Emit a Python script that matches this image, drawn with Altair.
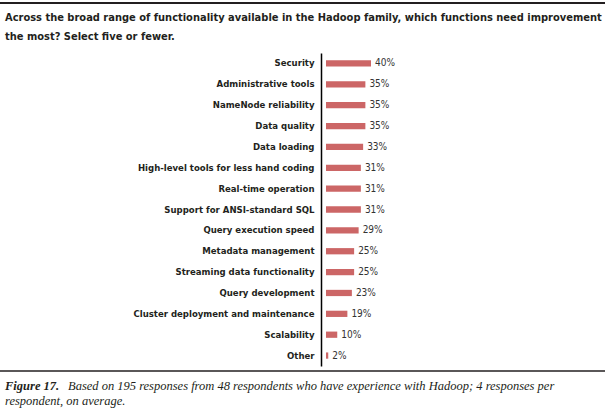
import altair as alt
import pandas as pd

categories = ["Security", "Administrative tools", "NameNode reliability", "Data quality",
              "Data loading", "High-level tools for less hand coding", "Real-time operation",
              "Support for ANSI-standard SQL", "Query execution speed", "Metadata management",
              "Streaming data functionality", "Query development",
              "Cluster deployment and maintenance", "Scalability", "Other"]
values = [40, 35, 35, 35, 33, 31, 31, 31, 29, 25, 25, 23, 19, 10, 2]
labels = [f"{v}%" for v in values]

title_lines = ["Across the broad range of functionality available in the Hadoop family, which functions need improvement",
               "the most? Select five or fewer."]
footer_bold = "Figure 17."
footer_rest = ["Based on 195 responses from 48 respondents who have experience with Hadoop; 4 responses per",
               "respondent, on average."]

df = pd.DataFrame({"cat": categories, "val": values, "lab": labels})

W, H = 283, 313
LEFT, TOP = 326, 53
COND = "DejaVu Sans Condensed"
dark = "#231f20"

y = alt.Y("cat:N", sort=categories, title=None,
          scale=alt.Scale(paddingInner=0.7, paddingOuter=0.35),
          axis=alt.Axis(offset=5, ticks=False, domainColor="black", domainWidth=1.5,
                        labelFont=COND, labelFontWeight="bold", labelFontSize=9.5,
                        labelColor=dark, labelPadding=7, labelLimit=0))
x = alt.X("val:Q", scale=alt.Scale(domain=[0, W / 1.125]), axis=None)

bars = alt.Chart(df).mark_bar(color="#cc6666").encode(x=x, y=y)
text = alt.Chart(df).mark_text(align="left", dx=4, font=COND, fontSize=10, color="#333333").encode(
    x=x, y=alt.Y("cat:N", sort=categories), text="lab:N")

one = pd.DataFrame({"a": [0]})
rule_top = alt.Chart(one).mark_rule(color="#231f20", strokeWidth=2).encode(
    x=alt.value(-LEFT), x2=alt.value(605 - LEFT), y=alt.value(3 - TOP))
rule_bot = alt.Chart(one).mark_rule(color="#231f20", strokeWidth=1.5).encode(
    x=alt.value(-LEFT), x2=alt.value(605 - LEFT), y=alt.value(371 - TOP))

t1 = alt.Chart(one).mark_text(align="left", baseline="alphabetic", font=COND, fontWeight="bold",
                              fontSize=11, color=dark).encode(
    x=alt.value(5 - LEFT), y=alt.value(21 - TOP), text=alt.value(title_lines[0]))
t2 = alt.Chart(one).mark_text(align="left", baseline="alphabetic", font=COND, fontWeight="bold",
                              fontSize=11, color=dark).encode(
    x=alt.value(5 - LEFT), y=alt.value(40 - TOP), text=alt.value(title_lines[1]))

f0 = alt.Chart(one).mark_text(align="left", baseline="alphabetic", font="Liberation Serif",
                              fontWeight="bold", fontStyle="italic", fontSize=12.5, color=dark).encode(
    x=alt.value(5 - LEFT), y=alt.value(390 - TOP), text=alt.value(footer_bold))
f1 = alt.Chart(one).mark_text(align="left", baseline="alphabetic", font="Liberation Serif",
                              fontStyle="italic", fontSize=12.5, color=dark).encode(
    x=alt.value(68 - LEFT), y=alt.value(390 - TOP), text=alt.value(footer_rest[0]))
f2 = alt.Chart(one).mark_text(align="left", baseline="alphabetic", font="Liberation Serif",
                              fontStyle="italic", fontSize=12.5, color=dark).encode(
    x=alt.value(5 - LEFT), y=alt.value(405 - TOP), text=alt.value(footer_rest[1]))

chart = alt.layer(bars, text, rule_top, rule_bot, t1, t2, f0, f1, f2).properties(
    width=W, height=H,
    autosize=alt.AutoSizeParams(type="none"),
    padding={"left": LEFT, "top": TOP, "right": 0, "bottom": 412 - TOP - H},
    background="white",
).configure_view(stroke=None)

chart.save("out.html", embed_options={"renderer": "svg", "actions": False})
